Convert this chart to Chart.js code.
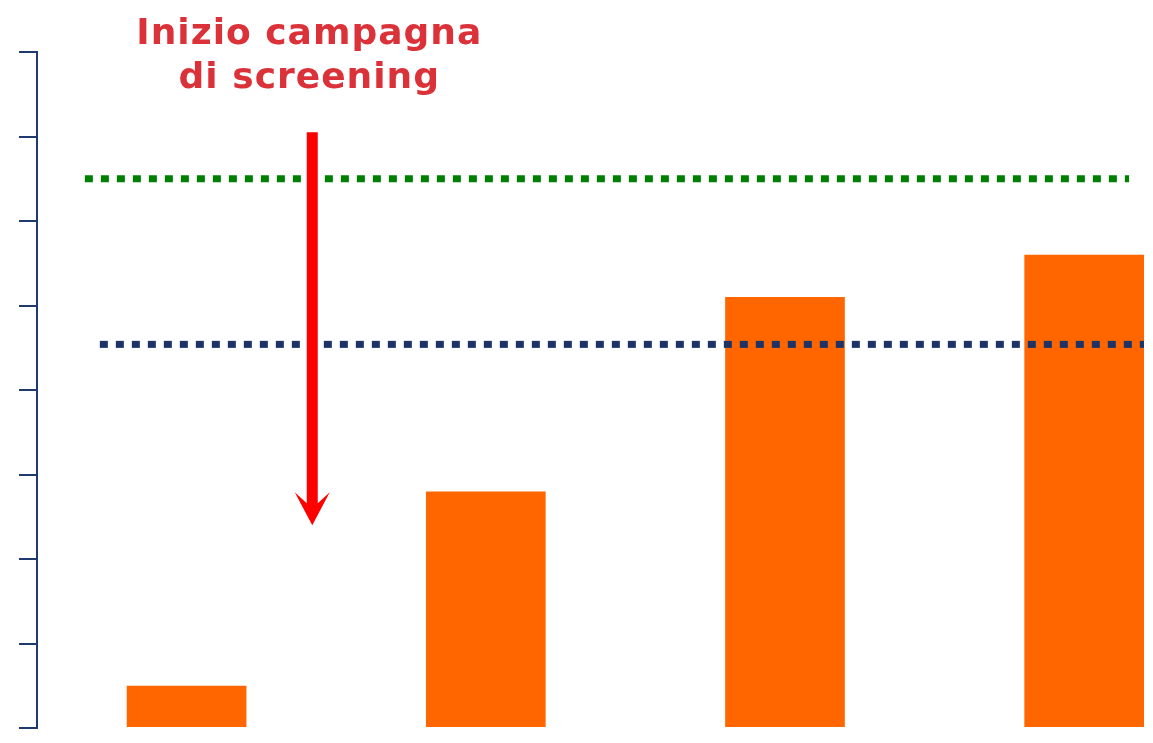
<!DOCTYPE html>
<html>
<head>
<meta charset="utf-8">
<script src="https://cdn.jsdelivr.net/npm/chart.js@4/dist/chart.umd.min.js"></script>
<style>
    html, body { margin: 0; padding: 0; background: #fff; }
    #wrap { width: 1153px; height: 743px; position: relative; }
</style>
</head>
<body>
<div id="wrap"><canvas id="myChart"></canvas></div>
<script>
// categories are not labelled in the picture
const categories = ['Periodo 1', 'Periodo 2', 'Periodo 3', 'Periodo 4'];
const barValues = [0.5, 2.8, 5.1, 5.6];
const yTicks = [0, 1, 2, 3, 4, 5, 6, 7, 8];

// reference lines: [xStart, xEnd] in category units, and level
const greenLineX = [0.16, 3.65];
const greenLevel = 6.5;
const navyLineX = [0.21, 3.70];
const navyLevel = 4.54;

// annotation arrow and its label
const arrowX = 0.92;
const arrowFrom = 7.05;
const arrowTo = 2.4;
const noteLines = ['Inizio campagna', 'di screening'];

const navy = '#1F3A70';

const annotationPlugin = {
    id: 'annotation',
    afterDatasetsDraw(chart) {
        const ctx = chart.ctx;
        const x = chart.scales.x.getPixelForValue(arrowX);
        const y0 = chart.scales.y.getPixelForValue(arrowFrom);
        const y1 = chart.scales.y.getPixelForValue(arrowTo);

        ctx.save();
        ctx.fillStyle = '#FF0000';
        ctx.beginPath();
        ctx.moveTo(x - 5.5, y0);
        ctx.lineTo(x - 5.5, y1 - 22);
        ctx.lineTo(x - 17.5, y1 - 33);
        ctx.lineTo(x, y1);
        ctx.lineTo(x + 17.5, y1 - 33);
        ctx.lineTo(x + 5.5, y1 - 22);
        ctx.lineTo(x + 5.5, y0);
        ctx.closePath();
        ctx.fill();

        ctx.fillStyle = '#DB3139';
        ctx.font = 'bold 36px "DejaVu Sans"';
        ctx.letterSpacing = '1px';
        ctx.textAlign = 'center';
        ctx.textBaseline = 'alphabetic';
        ctx.fillText(noteLines[0], x - 3, 44);
        ctx.fillText(noteLines[1], x - 3, 88);
        ctx.restore();
    }
};

const chartElement = document.getElementById('myChart');
const ctx = chartElement.getContext('2d');

const myChart = new Chart(ctx, {
    type: 'bar',
    data: {
        datasets: [
            {
                type: 'line',
                label: 'green',
                data: greenLineX.map(v => ({ x: v, y: greenLevel })),
                borderColor: '#008000',
                borderWidth: 7,
                borderDash: [8, 8],
                borderCapStyle: 'butt',
                pointRadius: 0,
                order: 0
            },
            {
                type: 'line',
                label: 'navy',
                data: navyLineX.map(v => ({ x: v, y: navyLevel })),
                borderColor: '#1C3366',
                borderWidth: 7,
                borderDash: [8, 8],
                borderCapStyle: 'butt',
                pointRadius: 0,
                order: 0
            },
            {
                label: 'valori',
                data: barValues.map((v, i) => ({ x: i + 0.5, y: v })),
                backgroundColor: '#FF6600',
                categoryPercentage: 0.8,
                barPercentage: 0.5,
                order: 1
            }
        ]
    },
    options: {
        responsive: true,
        maintainAspectRatio: false,
        animation: false,
        layout: {
            padding: { top: 52, left: 19, right: 0, bottom: 15 }
        },
        plugins: {
            legend: { display: false },
            tooltip: { enabled: false }
        },
        scales: {
            x: {
                type: 'linear',
                display: false,
                offset: false,
                min: 0,
                max: 3.73,
                grid: { offset: false },
                ticks: { stepSize: 1, includeBounds: false }
            },
            y: {
                min: yTicks[0],
                max: yTicks[yTicks.length - 1],
                afterBuildTicks: axis => {
                    axis.ticks = yTicks.map(v => ({ value: v }));
                },
                ticks: { display: false },
                grid: {
                    drawOnChartArea: false,
                    drawTicks: true,
                    tickLength: 18,
                    color: navy,
                    lineWidth: 2
                },
                border: {
                    display: true,
                    color: navy,
                    width: 2
                }
            }
        }
    },
    plugins: [annotationPlugin]
});
</script>
</body>
</html>
